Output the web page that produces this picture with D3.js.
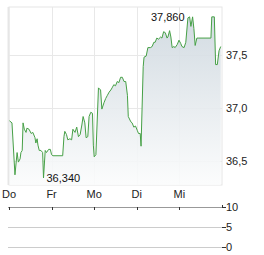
<!DOCTYPE html>
<html><head><meta charset="utf-8">
<script src="https://cdn.jsdelivr.net/npm/d3@7"></script>
<style>body{margin:0;background:#fff}svg{display:block;font-family:"Liberation Sans",Arial,sans-serif}</style>
</head><body><svg id="c" width="264" height="255"></svg>
<script>
const dayLabels = ["Do","Fr","Mo","Di","Mi"];
const priceTicks = [36.5, 37.0, 37.5];
const volumeTicks = [0, 5, 10];
// time in trading days since Thursday open
const times = [0.01,0.07,0.14,0.19,0.22,0.26,0.28,0.31,0.33,0.36,0.40,0.42,0.47,0.52,0.56,0.61,0.63,0.66,0.68,0.71,0.75,0.79,0.81,0.85,0.88,0.93,0.97,1.00,1.03,1.26,1.29,1.31,1.35,1.38,1.43,1.47,1.50,1.55,1.59,1.63,1.67,1.71,1.74,1.78,1.81,1.85,1.88,1.92,1.96,1.98,2.00,2.04,2.10,2.15,2.18,2.23,2.27,2.31,2.35,2.39,2.42,2.46,2.50,2.54,2.58,2.62,2.66,2.70,2.74,2.78,2.80,2.86,2.89,2.93,2.97,3.01,3.04,3.08,3.10,3.15,3.17,3.22,3.26,3.32,3.36,3.40,3.43,3.47,3.51,3.56,3.59,3.63,3.67,3.71,3.73,3.77,3.80,3.83,3.87,3.90,3.95,3.99,4.03,4.06,4.11,4.15,4.20,4.24,4.27,4.31,4.34,4.37,4.41,4.44,4.74,4.76,4.82,4.85,4.89,4.93,4.97];
const prices = [36.88,36.86,36.37,36.58,36.49,36.52,36.58,36.60,36.86,36.80,36.77,36.81,36.80,36.76,36.77,36.72,36.67,36.71,36.65,36.60,36.60,36.58,36.34,36.60,36.58,36.61,36.61,36.56,36.55,36.55,36.73,36.78,36.75,36.70,36.71,36.70,36.80,36.77,36.82,36.73,36.75,36.84,36.92,36.86,36.72,36.73,36.92,36.96,36.95,36.65,36.54,36.56,37.19,37.17,36.99,37.05,37.09,37.12,37.15,37.17,37.19,37.22,37.21,37.25,37.24,37.29,37.29,37.25,37.25,37.12,36.92,36.87,36.86,36.82,36.83,36.79,36.76,36.76,36.64,37.39,37.48,37.49,37.57,37.57,37.58,37.62,37.62,37.66,37.65,37.67,37.66,37.72,37.71,37.66,37.67,37.73,37.67,37.57,37.58,37.57,37.60,37.64,37.61,37.58,37.57,37.62,37.85,37.86,37.77,37.86,37.75,37.59,37.66,37.66,37.66,37.86,37.86,37.41,37.41,37.54,37.58];

const svg = d3.select("#c");
const L = 9, R = 222, T = 7, B = 185;
const x = d3.scaleLinear().domain([0, 5]).range([L, R]);
const y = d3.scaleLinear().domain([36.274, 37.953]).range([B, T]);

// background frame
svg.append("rect").attr("x", L).attr("y", T).attr("width", R - L).attr("height", B - T)
  .attr("fill", "#fff").attr("stroke", "#e6e6e6");
svg.append("line").attr("x1", L - 0.5).attr("x2", L - 0.5).attr("y1", T).attr("y2", B)
  .attr("stroke", "#e6e6e6").attr("stroke-width", 2);

// grid
svg.append("g").selectAll("line").data(d3.range(1, dayLabels.length)).join("line")
  .attr("x1", d => Math.round(x(d)) + 0.5).attr("x2", d => Math.round(x(d)) + 0.5)
  .attr("y1", T).attr("y2", B).attr("stroke", "#e8e8e8");
svg.append("g").selectAll("line").data(priceTicks).join("line")
  .attr("x1", L).attr("x2", R)
  .attr("y1", d => Math.round(y(d)) + 0.5).attr("y2", d => Math.round(y(d)) + 0.5)
  .attr("stroke", "#e8e8e8");

// gradient
const defs = svg.append("defs");
const g = defs.append("linearGradient").attr("id", "gr")
  .attr("gradientUnits", "userSpaceOnUse").attr("x1", 0).attr("x2", 0).attr("y1", T).attr("y2", B);
g.append("stop").attr("offset", "0%").attr("stop-color", "#cbd5dd");
g.append("stop").attr("offset", "100%").attr("stop-color", "#fbfcfc");

const pts = times.map((t, i) => [t, prices[i]]);
const area = d3.area().x(d => x(d[0])).y0(B).y1(d => y(d[1]));
svg.append("path").datum(pts).attr("d", area).attr("fill", "url(#gr)").attr("opacity", 0.9);

const line = d3.line().x(d => x(d[0])).y(d => y(d[1]));
svg.append("path").datum(pts).attr("d", line).attr("fill", "none")
  .attr("stroke", "#46a046").attr("stroke-width", 1).attr("stroke-linejoin", "round");

// y labels
svg.append("g").selectAll("text").data(priceTicks).join("text")
  .attr("x", 226).attr("y", d => y(d)).attr("dy", "0.35em")
  .attr("font-size", 11).attr("fill", "#222")
  .text(d => d3.format(".1f")(d).replace(".", ","));

// min / max annotations
const iMax = d3.maxIndex(prices), iMin = d3.minIndex(prices);
svg.append("text").attr("x", x(times[iMax]) - 5).attr("y", y(prices[iMax])).attr("dy", "0.35em")
  .attr("text-anchor", "end").attr("font-size", 11).attr("fill", "#111")
  .text(d3.format(".3f")(prices[iMax]).replace(".", ","));
svg.append("text").attr("x", x(times[iMin]) + 3).attr("y", y(prices[iMin])).attr("dy", "0.35em")
  .attr("font-size", 11).attr("fill", "#111")
  .text(d3.format(".3f")(prices[iMin]).replace(".", ","));

// day labels
svg.append("g").selectAll("text").data(dayLabels).join("text")
  .attr("x", (d, i) => x(i)).attr("y", 194).attr("dy", "0.35em")
  .attr("text-anchor", "middle").attr("font-size", 11).attr("fill", "#222").text(d => d);

// volume panel
const yv = d3.scaleLinear().domain([0, 10]).range([247, 207]);
svg.append("g").selectAll("line").data(volumeTicks).join("line")
  .attr("x1", L - 1).attr("x2", R)
  .attr("y1", d => Math.round(yv(d)) + 0.5).attr("y2", d => Math.round(yv(d)) + 0.5)
  .attr("stroke", d => d === 10 ? "#999" : "#ccc");
svg.append("g").selectAll("line").data(volumeTicks).join("line")
  .attr("x1", R).attr("x2", R + 4)
  .attr("y1", d => Math.round(yv(d)) + 0.5).attr("y2", d => Math.round(yv(d)) + 0.5)
  .attr("stroke", "#333");
svg.append("line").attr("x1", R + 0.5).attr("x2", R + 0.5).attr("y1", 205).attr("y2", 208).attr("stroke", "#333");
svg.append("g").selectAll("line").data(d3.range(dayLabels.length)).join("line")
  .attr("x1", d => Math.round(x(d)) + 0.5).attr("x2", d => Math.round(x(d)) + 0.5)
  .attr("y1", 207).attr("y2", 210).attr("stroke", "#333");
svg.append("g").selectAll("text").data(volumeTicks).join("text")
  .attr("x", 226).attr("y", d => yv(d)).attr("dy", "0.35em")
  .attr("font-size", 11).attr("fill", "#222").text(d => d);
</script></body></html>
